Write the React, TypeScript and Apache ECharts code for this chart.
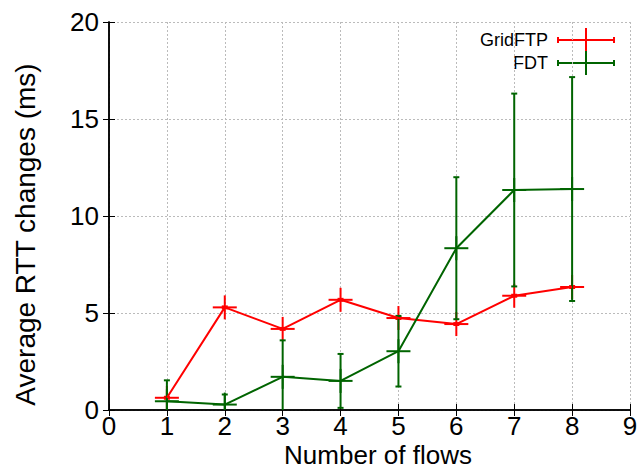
import React, { useEffect, useRef } from "react";
import * as echarts from "echarts";

const flows = [1, 2, 3, 4, 5, 6, 7, 8];
const gridftpMean = [0.63, 5.29, 4.18, 5.68, 4.74, 4.43, 5.89, 6.34];
const gridftpErr = [0.05, 0.05, 0.05, 0.05, 0.05, 0.05, 0.05, 0.05];
const fdtMean = [0.45, 0.28, 1.71, 1.5, 3.03, 8.34, 11.34, 11.39];
const fdtErr = [1.08, 0.52, 1.88, 1.39, 1.82, 3.66, 4.97, 5.77];
const xTicks = [0, 9, 1];
const yTicks = [0, 20, 5];

const RED = "#ff0000";
const GREEN = "#006400";
const FONT = "'Liberation Sans', Arial, Helvetica, sans-serif";

function makeRender(color: string) {
  return (params: any, api: any) => {
    const x = api.value(0);
    const y = api.value(1);
    const e = api.value(2);
    const c = api.coord([x, y]);
    const bottom = api.coord([x, yTicks[0]])[1];
    const top = api.coord([x, yTicks[1]])[1];
    const hiV = y + e;
    const loV = y - e;
    const hi = api.coord([x, Math.min(hiV, yTicks[1])])[1];
    const lo = api.coord([x, Math.max(loV, yTicks[0])])[1];
    const style = { stroke: color, lineWidth: 2 };
    const children: any[] = [
      { type: "line", shape: { x1: c[0], y1: hi, x2: c[0], y2: lo }, style },
      { type: "line", shape: { x1: c[0] - 12, y1: c[1], x2: c[0] + 12, y2: c[1] }, style },
      {
        type: "line",
        shape: { x1: c[0], y1: Math.max(c[1] - 12, top), x2: c[0], y2: Math.min(c[1] + 12, bottom) },
        style,
      },
    ];
    if (hiV <= yTicks[1]) {
      children.push({ type: "line", shape: { x1: c[0] - 3, y1: hi, x2: c[0] + 3, y2: hi }, style });
    }
    if (loV >= yTicks[0]) {
      children.push({ type: "line", shape: { x1: c[0] - 3, y1: lo, x2: c[0] + 3, y2: lo }, style });
    }
    return { type: "group", children };
  };
}

function legendItem(label: string, color: string, y: number) {
  const style = { stroke: color, lineWidth: 2 };
  return [
    {
      type: "text",
      x: 548,
      y,
      style: { text: label, fill: "#000", fontSize: 18, fontFamily: FONT, align: "right", verticalAlign: "middle" },
    },
    { type: "line", shape: { x1: 558, y1: y, x2: 614, y2: y }, style },
    { type: "line", shape: { x1: 558, y1: y - 3, x2: 558, y2: y + 3 }, style },
    { type: "line", shape: { x1: 614, y1: y - 3, x2: 614, y2: y + 3 }, style },
    { type: "line", shape: { x1: 586, y1: y - 12, x2: 586, y2: y + 12 }, style },
  ];
}

export default function App() {
  const ref = useRef<HTMLDivElement>(null);
  useEffect(() => {
    document.body.style.margin = "0";
    if (!ref.current) return;
    const chart = echarts.init(ref.current, null, { renderer: "svg" });
    const axisLine = { show: true, lineStyle: { color: "#000", width: 1.5 } };
    const splitLine = { show: true, lineStyle: { color: "#bbbbbb", width: 1, type: [2, 2] } };
    const labelStyle = { color: "#000", fontSize: 26, lineHeight: 26, fontFamily: FONT };
    const option: any = {
      animation: false,
      backgroundColor: "#fff",
      grid: { left: 109, right: 10, top: 22, bottom: 60, outerBoundsMode: "none", containLabel: false },
      xAxis: [
        {
          type: "value",
          min: xTicks[0],
          max: xTicks[1],
          interval: xTicks[2],
          position: "bottom",
          axisLine,
          axisTick: { show: true, inside: true, length: 6, lineStyle: { color: "#000", width: 1 } },
          axisLabel: { ...labelStyle, margin: 3 },
          splitLine,
          name: "Number of flows",
          nameLocation: "middle",
          nameGap: 45,
          nameMoveOverlap: false,
          nameTextStyle: {
            color: "#000",
            fontSize: 26,
            lineHeight: 26,
            fontFamily: FONT,
            verticalAlign: "middle",
            padding: [0, 0, 0, 17],
          },
        },
        {
          type: "value",
          min: xTicks[0],
          max: xTicks[1],
          interval: xTicks[2],
          position: "top",
          axisLine,
          axisTick: { show: true, inside: true, length: 6, lineStyle: { color: "#000", width: 1 } },
          axisLabel: { show: false },
          splitLine: { show: false },
        },
      ],
      yAxis: [
        {
          type: "value",
          min: yTicks[0],
          max: yTicks[1],
          interval: yTicks[2],
          position: "left",
          axisLine,
          axisTick: { show: true, inside: true, length: 6, lineStyle: { color: "#000", width: 1 } },
          axisLabel: { ...labelStyle, margin: 10 },
          splitLine,
          name: "Average RTT changes (ms)",
          nameLocation: "middle",
          nameGap: 70,
          nameTextStyle: { color: "#000", fontSize: 28, fontFamily: FONT, padding: [0, 37, 0, 0] },
        },
        {
          type: "value",
          min: yTicks[0],
          max: yTicks[1],
          interval: yTicks[2],
          position: "right",
          axisLine,
          axisTick: { show: true, inside: true, length: 6, lineStyle: { color: "#000", width: 1 } },
          axisLabel: { show: false },
          splitLine: { show: false },
        },
      ],
      series: [
        {
          name: "GridFTP",
          type: "line",
          data: flows.map((x, i) => [x, gridftpMean[i]]),
          symbol: "none",
          lineStyle: { color: RED, width: 2 },
          itemStyle: { color: RED },
          silent: true,
        },
        {
          name: "GridFTP",
          type: "custom",
          data: flows.map((x, i) => [x, gridftpMean[i], gridftpErr[i]]),
          encode: { x: 0, y: 1 },
          renderItem: makeRender(RED),
          silent: true,
        },
        {
          name: "FDT",
          type: "line",
          data: flows.map((x, i) => [x, fdtMean[i]]),
          symbol: "none",
          lineStyle: { color: GREEN, width: 2 },
          itemStyle: { color: GREEN },
          silent: true,
        },
        {
          name: "FDT",
          type: "custom",
          data: flows.map((x, i) => [x, fdtMean[i], fdtErr[i]]),
          encode: { x: 0, y: 1 },
          renderItem: makeRender(GREEN),
          silent: true,
        },
      ],
      graphic: [...legendItem("GridFTP", RED, 40), ...legendItem("FDT", GREEN, 63)],
    };
    chart.setOption(option);
    return () => chart.dispose();
  }, []);
  return <div ref={ref} style={{ width: 640, height: 470 }} />;
}
